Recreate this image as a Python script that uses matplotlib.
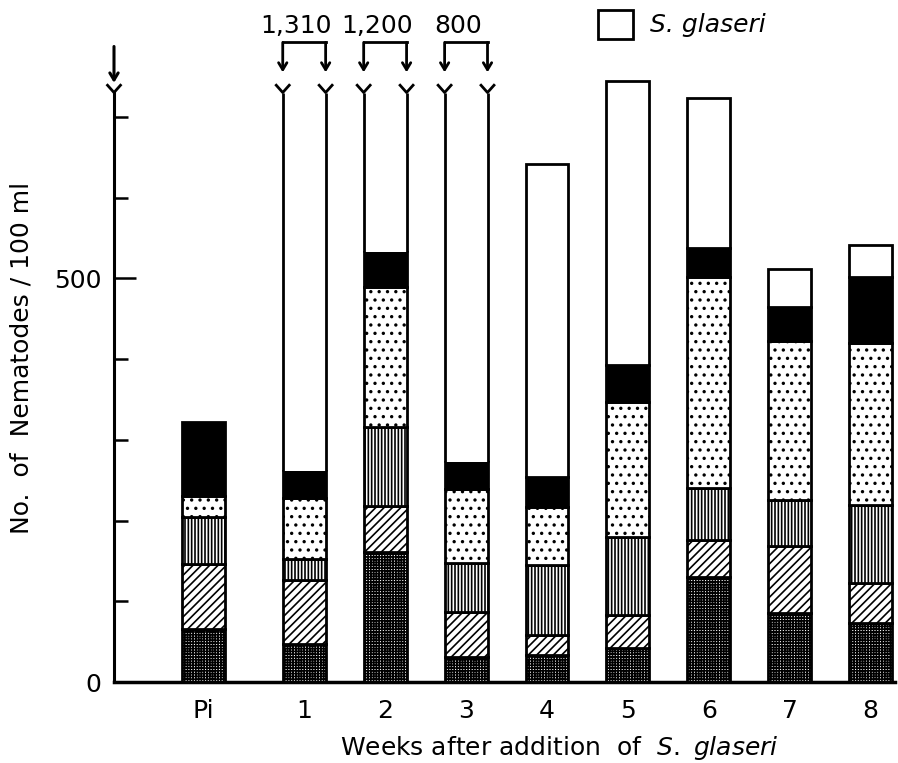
import matplotlib
matplotlib.use("Agg")
import matplotlib.pyplot as plt
from matplotlib.patches import Rectangle
from matplotlib.ticker import FixedLocator

plt.rcParams['font.family'] = ['DejaVu Sans']
plt.rcParams['hatch.linewidth'] = 1.2
plt.rcParams['mathtext.fontset'] = 'dejavusans'

# ---- data ----
categories = ["Pi", "1", "2", "3", "4", "5", "6", "7", "8"]
cross_seg  = [66, 47, 161, 31, 33, 42, 130, 85, 73]
diag_seg   = [80, 79, 57, 56, 25, 41, 46, 83, 50]
vert_seg   = [58, 26, 98, 60, 87, 96, 64, 58, 96]
dots_seg   = [26, 76, 173, 92, 72, 168, 261, 196, 201]
black_seg  = [92, 33, 44, 33, 37, 45, 37, 42, 81]
glaseri    = [0, 1049, 667, 528, 388, 352, 185, 47, 40]
totals_off_scale = {"1": "1,310", "2": "1,200", "3": "800"}

positions = [-0.247, 1, 2, 3, 4, 5, 6, 7, 8]
width = 0.53
cap = 730        # axis break level
ymax = 800

fig = plt.figure(figsize=(8.98, 7.63), dpi=100)
ax = fig.add_axes([114/898, 81/763, 781/898, 646/763])
ax.set_xlim(-1.35, 8.3)
ax.set_ylim(0, ymax)

styles = [
    dict(facecolor='white', hatch='++++++'),
    dict(facecolor='white', hatch='////'),
    dict(facecolor='white', hatch='|||||'),
    dict(facecolor='white', hatch='..'),
    dict(facecolor='black', hatch=None),
]
segments = [cross_seg, diag_seg, vert_seg, dots_seg, black_seg]

for i, cat in enumerate(categories):
    x = positions[i]
    bottom = 0
    for seg, st in zip(segments, styles):
        h = seg[i]
        ax.bar(x, h, width, bottom=bottom, edgecolor='black', linewidth=2,
               **st)
        bottom += h
    g = glaseri[i]
    if g > 0:
        if cat in totals_off_scale:
            ax.bar(x, cap - bottom, width, bottom=bottom, facecolor='white',
                   edgecolor='none', linewidth=0)
            xl, xr = x - width/2, x + width/2
            ax.vlines([xl, xr], bottom, cap, color='black', linewidth=2)
            d = 0.08
            for xe in (xl, xr):
                ax.plot([xe - d, xe, xe + d], [cap + 9, cap, cap + 9],
                        color='black', lw=2, clip_on=False)
                ax.annotate('', xy=(xe, 755), xytext=(xe, 792),
                            arrowprops=dict(arrowstyle='->,head_length=0.5,head_width=0.3',
                                            lw=2, color='black',
                                            shrinkA=0, shrinkB=0),
                            annotation_clip=False)
            ax.plot([xl, xr], [792, 792], color='black', lw=2,
                    solid_capstyle='projecting', clip_on=False)
            ax.text(x - 0.1, 804, totals_off_scale[cat], ha='center',
                    va='baseline', fontsize=18, clip_on=False)
        else:
            ax.bar(x, g, width, bottom=bottom, facecolor='white',
                   edgecolor='black', linewidth=2)

# axes styling
for s in ('top', 'right'):
    ax.spines[s].set_visible(False)
ax.spines['left'].set_bounds(0, cap)
ax.spines['left'].set_linewidth(2.2)
ax.spines['bottom'].set_linewidth(2.5)

x0 = -1.35
ax.plot([x0 - 0.08, x0, x0 + 0.08], [cap + 9, cap, cap + 9],
        color='black', lw=2, clip_on=False)
ax.annotate('', xy=(x0, 742), xytext=(x0, 787),
            arrowprops=dict(arrowstyle='->,head_length=0.5,head_width=0.3',
                            lw=2.2, color='black', shrinkA=0, shrinkB=0),
            annotation_clip=False)

ax.set_yticks([0, 500])
ax.set_yticklabels(['0', '500'])
ax.yaxis.set_minor_locator(FixedLocator([100, 200, 300, 400, 600, 700]))
ax.tick_params(axis='y', which='major', direction='in', length=16, width=1.8,
               pad=9, labelsize=18)
ax.tick_params(axis='y', which='minor', direction='in', length=10, width=1.8)

ax.set_xticks(positions)
ax.set_xticklabels(categories)
ax.tick_params(axis='x', length=0, pad=12, labelsize=18)

fig.text(559/898, 1 - 748/763,
         r'Weeks after addition  of  $\mathit{S.\ glaseri}$',
         ha='center', va='center', fontsize=18)
fig.text(22/898, 1 - 358/763, 'No.  of  Nematodes / 100 ml',
         rotation=90, ha='center', va='center', fontsize=18)

# legend
fig.patches.append(Rectangle((598/898, 1 - 39/763), 35/898, 29/763,
                             transform=fig.transFigure, facecolor='white',
                             edgecolor='black', linewidth=2))
fig.text(650/898, 1 - 25/763, 'S. glaseri', style='italic',
         ha='left', va='center', fontsize=18)

fig.savefig('out.png', dpi=100)
